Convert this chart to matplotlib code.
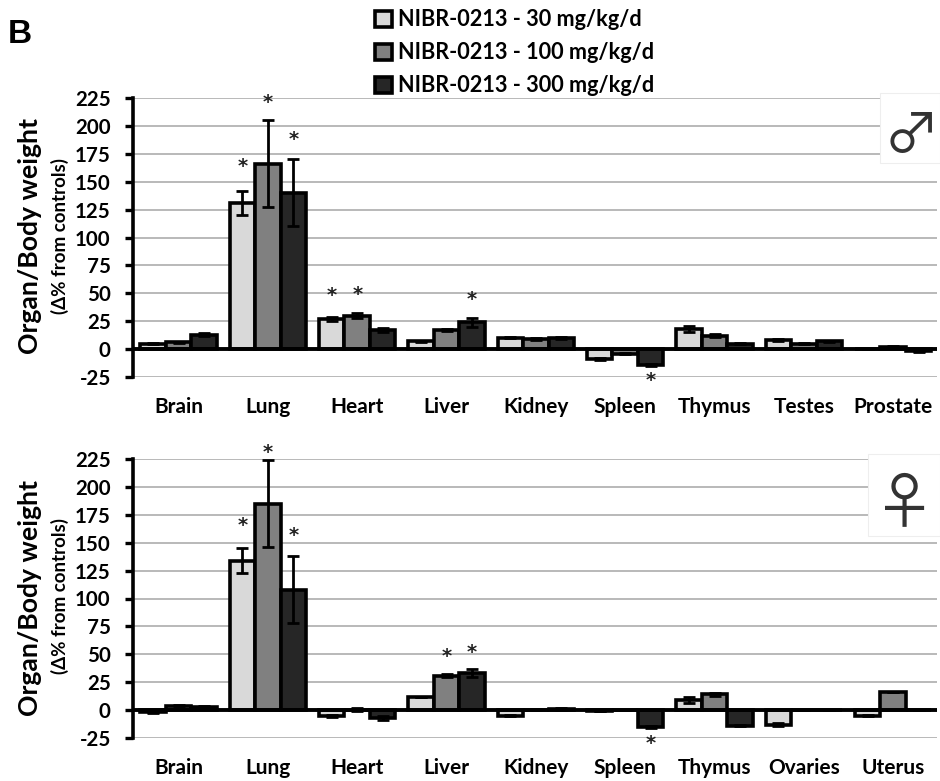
import numpy as np
import matplotlib
matplotlib.use("Agg")
import matplotlib.pyplot as plt
from matplotlib.patches import Rectangle

plt.rcParams['font.family'] = ['Lato', 'DejaVu Sans']
plt.rcParams['axes.unicode_minus'] = False

W, H = 940, 781

# doses and bar colours
doses = ["NIBR-0213 - 30 mg/kg/d", "NIBR-0213 - 100 mg/kg/d", "NIBR-0213 - 300 mg/kg/d"]
colors = ["#d9d9d9", "#808080", "#262626"]
yticks = [-25, 0, 25, 50, 75, 100, 125, 150, 175, 200, 225]

# male panel
male_organs = ["Brain", "Lung", "Heart", "Liver", "Kidney", "Spleen", "Thymus", "Testes", "Prostate"]
male_30 = [5, 131, 27, 7, 10, -9, 18, 8, 0]
male_100 = [6, 166, 30, 17, 9, -4, 12, 5, 2]
male_300 = [13, 140, 17, 24, 10, -14, 5, 7, -2]
male_30_err = [0.5, 10.5, 1.5, 0.5, 0.5, 1, 3, 1, 0]
male_100_err = [0.5, 39, 2, 1, 0.5, 0.5, 1.5, 0.5, 0.5]
male_300_err = [1, 30, 1.5, 4, 1, 1, 0.5, 0.5, 0.5]
# organ index, dose index, height of the star
male_stars = [(1, 0, 165), (1, 1, 223), (1, 2, 190), (2, 0, 50), (2, 1, 51), (3, 2, 46.5), (5, 2, -26)]

# female panel
female_organs = ["Brain", "Lung", "Heart", "Liver", "Kidney", "Spleen", "Thymus", "Ovaries", "Uterus"]
female_30 = [-2, 134, -5, 12, -5, -0.5, 9, -13, -5]
female_100 = [4, 185, 0.5, 31, 0.5, 0, 14, 0, 16]
female_300 = [3, 108, -7, 33, 1, -15, -14, 0, 0]
female_30_err = [0.5, 11, 1, 0, 0.5, 0, 3, 1, 0.5]
female_100_err = [0.5, 39, 1, 1, 0.5, 0, 1, 0, 0]
female_300_err = [0.5, 30, 1.5, 3.5, 0.5, 1, 0.5, 0, 0]
female_stars = [(1, 0, 167.5), (1, 1, 233), (1, 2, 158.5), (3, 1, 50), (3, 2, 53), (5, 2, -28.5)]

bar_w = 0.285


def draw_panel(ax, organs, series, errors, stars):
    x = np.arange(len(organs))
    bars = []
    for i, vals in enumerate(series):
        pos = x + (i - 1) * bar_w
        b = ax.bar(pos, vals, bar_w, color=colors[i], edgecolor="black", linewidth=2.6, zorder=3,
                   label=doses[i])
        ax.errorbar(pos, vals, yerr=errors[i], fmt="none", ecolor="black", elinewidth=2,
                    capsize=4, capthick=2, zorder=4)
        bars.append(b)
    for org, dose, h in stars:
        ax.text(org + (dose - 1) * bar_w, h, "*", fontsize=14, ha="center", va="center_baseline",
                color="#222222", fontweight="bold", family="DejaVu Sans", zorder=5)
    ax.axhline(0, color="black", lw=2.8, zorder=5)
    ax.set_xlim(-0.51, len(organs) - 0.51)
    ax.set_ylim(-25, 225)
    ax.set_yticks(yticks)
    ax.set_xticks(x)
    ax.set_xticklabels(organs, fontsize=15, fontweight="bold")
    ax.tick_params(axis="x", length=0, pad=14.5)
    ax.tick_params(axis="y", length=6, width=2.4, pad=10)
    for lab in ax.get_yticklabels():
        lab.set_fontsize(14.8)
        lab.set_fontweight("bold")
    ax.grid(axis="y", color="#a6a6a6", lw=1.1, zorder=0)
    ax.set_axisbelow(True)
    for s in ["top", "right", "bottom"]:
        ax.spines[s].set_visible(False)
    ax.spines["left"].set_linewidth(2.6)
    return bars


def panel_axes(fig, top, bottom):
    return fig.add_axes([133 / W, 1 - bottom / H, (937 - 133) / W, (bottom - top) / H])


fig = plt.figure(figsize=(W / 100, H / 100), dpi=100)

ax1 = panel_axes(fig, 98, 377)
bars = draw_panel(ax1, male_organs, [male_30, male_100, male_300],
                  [male_30_err, male_100_err, male_300_err], male_stars)
ax2 = panel_axes(fig, 459, 738)
draw_panel(ax2, female_organs, [female_30, female_100, female_300],
           [female_30_err, female_100_err, female_300_err], female_stars)

# legend at the top
fig.legend(handles=bars, labels=doses, loc="upper left", bbox_to_anchor=(371 / W, 1 - 5 / H),
           frameon=False, handlelength=0.75, handleheight=0.75, handletextpad=0.3,
           labelspacing=0.55, borderpad=0.2, borderaxespad=0, prop={"size": 15.6, "weight": "bold"})

# axis titles
for top, bottom in [(98, 377), (459, 738)]:
    mid = (top + bottom) / 2
    fig.text(30 / W, 1 - (mid - 1) / H, "Organ/Body weight", rotation=90, ha="center", va="center",
             fontsize=19.2, fontweight="bold")
    fig.text(60 / W, 1 - (mid - 2) / H, "(Δ% from controls)", rotation=90, ha="center", va="center",
             fontsize=13.5, fontweight="bold")

fig.text(8 / W, 1 - 43 / H, "B", fontsize=24, fontweight="bold", family="Liberation Sans",
         ha="left", va="baseline")

# white boxes with the sex symbols
fig.add_artist(Rectangle((880 / W, 1 - 163 / H), 60 / W, 70 / H, transform=fig.transFigure,
                         facecolor="white", edgecolor="#eeeeee", lw=0.8, zorder=2))
fig.add_artist(Rectangle((868 / W, 1 - 536 / H), 72 / W, 82 / H, transform=fig.transFigure,
                         facecolor="white", edgecolor="#eeeeee", lw=0.8, zorder=2))
fig.text(911 / W, 1 - 137 / H, "\u2642", fontsize=40, family="Noto Sans CJK SC", ha="center", va="center",
         color="#333333", zorder=3)
fig.text(905 / W, 1 - 505 / H, "\u2640", fontsize=44, family="Noto Sans CJK SC", ha="center", va="center",
         color="#333333", zorder=3)

fig.savefig("out.png", dpi=100)
